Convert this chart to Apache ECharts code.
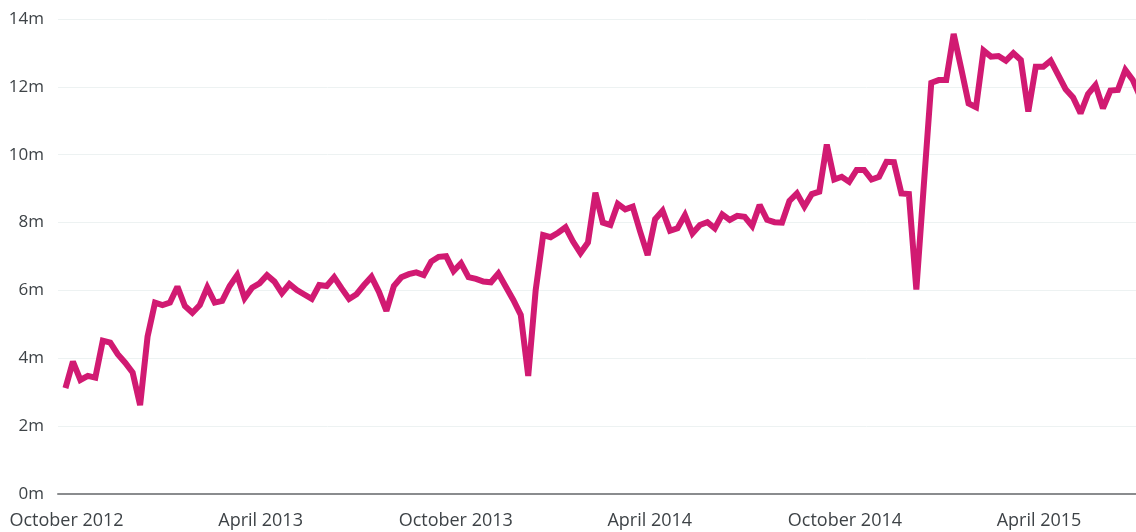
<!DOCTYPE html>
<html>
<head>
<meta charset="utf-8">
<script src="https://cdn.jsdelivr.net/npm/echarts@6.0.0/dist/echarts.min.js"></script>
<style>
    html, body { margin: 0; padding: 0; background: #fff; }
    #chart { width: 1136px; height: 532px; }
</style>
</head>
<body>
<div id="chart"></div>
<script>
// weekly series, first week starting 30 Sep 2012
const firstWeek = [2012, 8, 30]
const values = [
    3.12, 3.90, 3.36, 3.48, 3.43, 4.52, 4.46, 4.12, 3.87, 3.58,
    2.62, 4.64, 5.64, 5.57, 5.64, 6.11, 5.54, 5.34, 5.57, 6.09,
    5.64, 5.69, 6.13, 6.45, 5.77, 6.08, 6.21, 6.45, 6.26, 5.92,
    6.19, 6.01, 5.88, 5.75, 6.16, 6.13, 6.39, 6.06, 5.75, 5.89,
    6.16, 6.40, 5.96, 5.40, 6.13, 6.39, 6.48, 6.53, 6.45, 6.85,
    6.99, 7.01, 6.57, 6.80, 6.39, 6.34, 6.26, 6.24, 6.50, 6.11,
    5.72, 5.28, 3.48, 6.01, 7.63, 7.57, 7.70, 7.86, 7.44, 7.10,
    7.41, 8.88, 8.00, 7.93, 8.55, 8.39, 8.47, 7.73, 7.04, 8.10,
    8.35, 7.76, 7.83, 8.22, 7.68, 7.93, 8.01, 7.83, 8.24, 8.08,
    8.20, 8.17, 7.90, 8.52, 8.08, 8.01, 8.00, 8.64, 8.86, 8.47,
    8.84, 8.91, 10.30, 9.27, 9.35, 9.20, 9.55, 9.55, 9.27, 9.35,
    9.79, 9.78, 8.86, 8.84, 6.03, 9.10, 12.12, 12.20, 12.20, 13.56,
    12.55, 11.51, 11.40, 13.07, 12.89, 12.91, 12.77, 12.99, 12.79, 11.27,
    12.59, 12.59, 12.77, 12.35, 11.93, 11.69, 11.22, 11.79, 12.05, 11.37,
    11.89, 11.91, 12.50, 12.20, 11.70
]
const xTickDates = [[2012, 9, 1], [2013, 3, 1], [2013, 9, 1], [2014, 3, 1], [2014, 9, 1], [2015, 3, 1]]
const xTickLabels = ['October 2012', 'April 2013', 'October 2013', 'April 2014', 'October 2014', 'April 2015']
const yTicks = [0, 2, 4, 6, 8, 10, 12, 14]

const DAY = 24 * 3600 * 1000
const toDay = d => Math.round(Date.UTC(d[0], d[1], d[2]) / DAY)
const d0 = toDay(firstWeek)
const seriesData = values.map((v, i) => [d0 + i * 7, v])
const tickDays = xTickDates.map(toDay)

const chart = echarts.init(document.getElementById('chart'))
chart.setOption({
    animation: false,
    grid: { left: 58, right: 0, top: 19, bottom: 38, containLabel: false },
    xAxis: {
        type: 'value',
        min: toDay([2012, 8, 23]),
        max: toDay([2015, 6, 1]),
        axisLine: { show: true, lineStyle: { color: '#8a8c8e', width: 2 } },
        axisTick: { show: false },
        splitLine: { show: false },
        axisLabel: {
            customValues: tickDays,
            margin: 18,
            color: '#3e4347',
            fontSize: 18,
            fontFamily: 'Open Sans',
            hideOverlap: false,
            formatter: v => {
                const i = tickDays.indexOf(v)
                return i >= 0 ? xTickLabels[i] : ''
            }
        }
    },
    yAxis: {
        type: 'value',
        min: yTicks[0],
        max: yTicks[yTicks.length - 1],
        interval: 2,
        axisLine: { show: false },
        axisTick: { show: false },
        splitLine: { lineStyle: { color: '#edf2f2', width: 1 } },
        axisLabel: {
            margin: 14,
            color: '#3e4347',
            fontSize: 17,
            fontFamily: 'Open Sans',
            formatter: v => v + 'm'
        }
    },
    series: [{
        type: 'line',
        data: seriesData,
        showSymbol: false,
        clip: true,
        lineStyle: { color: '#d11a72', width: 6, join: 'miter', miterLimit: 2.5 }
    }]
})
</script>
</body>
</html>
